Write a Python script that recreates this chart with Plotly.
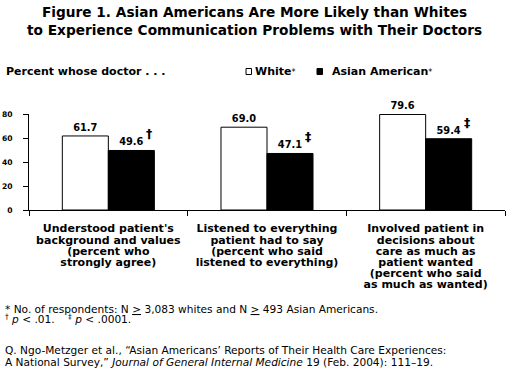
import plotly.graph_objects as go

# ---------------- data ----------------
cat_keys = ["background", "listened", "involved"]
cat_labels = [
    ["Understood patient's", "background and values", "(percent who", "strongly agree)"],
    ["Listened to everything", "patient had to say", "(percent who said", "listened to everything)"],
    ["Involved patient in", "decisions about", "care as much as", "patient wanted",
     "(percent who said", "as much as wanted)"],
]
white_values = [61.7, 69.0, 79.6]
asian_values = [49.6, 47.1, 59.4]
significance = ["†", "‡", "‡"]
y_ticks = [0, 20, 40, 60, 80]
series_names = ["White", "Asian American"]
title_lines = ["Figure 1. Asian Americans Are More Likely than Whites",
               "to Experience Communication Problems with Their Doctors"]

# ---------------- layout helpers ----------------
W, H = 508, 377
ML, MR, MT, MB = 29, 3, 114, 167
PW, PH = W - ML - MR, H - MT - MB


def px(x):
    return (x - ML) / PW


def py(y):
    return (H - MB - y) / PH


BOLD = "DejaVu Sans"
REG = "DejaVu Sans"


def spaced(lines, size):
    return "<br>".join(f"<span style='font-size:{size}px'>{l}</span>" for l in lines)


fig = go.Figure()
fig.add_bar(
    x=cat_keys, y=white_values, name=series_names[0],
    marker=dict(color="white", line=dict(color="black", width=1)),
    texttemplate="%{y:.1f}", textposition="outside", constraintext="none",
    textfont=dict(family=BOLD, size=9.8, color="black", weight="bold"),
    cliponaxis=False, showlegend=False,
)
fig.add_bar(
    x=cat_keys, y=asian_values, name=series_names[1],
    marker=dict(color="black", line=dict(color="black", width=1)),
    texttemplate="%{y:.1f}", textposition="outside", constraintext="none",
    textfont=dict(family=BOLD, size=9.8, color="black", weight="bold"),
    cliponaxis=False, showlegend=False,
)

annotations = []
for k, v, s in zip(cat_keys, asian_values, significance):
    annotations.append(dict(
        x=k, y=v, xref="x", yref="y", text=s, showarrow=False,
        xanchor="center", yanchor="bottom", xshift=41, yshift=7,
        font=dict(family=BOLD, size=12.5, color="black", weight="bold"),
    ))

# title
annotations.append(dict(
    x=px(254), y=py(2), xref="paper", yref="paper", xanchor="center", yanchor="top",
    text="<br>".join(title_lines), showarrow=False, align="center",
    font=dict(family=BOLD, size=13.7, color="black", weight="bold"),
))
# header label
annotations.append(dict(
    x=px(4), y=py(71.5), xref="paper", yref="paper", xanchor="left", yanchor="middle",
    text="Percent whose doctor . . .", showarrow=False,
    font=dict(family=BOLD, size=11, color="black", weight="bold"),
))
# legend texts
annotations.append(dict(
    x=px(252.5), y=py(71.5), xref="paper", yref="paper", xanchor="left", yanchor="middle",
    text=series_names[0] + "<span style='font-weight:normal;font-size:8px'>*</span>", showarrow=False,
    font=dict(family=BOLD, size=11, color="black", weight="bold"),
))
annotations.append(dict(
    x=px(329.5), y=py(71.5), xref="paper", yref="paper", xanchor="left", yanchor="middle",
    text=series_names[1] + "<span style='font-weight:normal;font-size:8px'>*</span>", showarrow=False,
    font=dict(family=BOLD, size=11, color="black", weight="bold"),
))

# footnotes
annotations.append(dict(
    x=px(3), y=py(301), xref="paper", yref="paper", xanchor="left", yanchor="top",
    text=("<span style='font-size:10.6px'>* No. of respondents: N <u>&gt;</u> 3,083 whites and N "
          "<u>&gt;</u> 493 Asian Americans.</span><br>"
          "<span style='font-size:10.6px'><sup>†</sup> <i>p</i> &lt; .01.&nbsp;&nbsp;&nbsp; "
          "<sup>‡</sup> <i>p</i> &lt; .0001.</span>"),
    showarrow=False, align="left",
    font=dict(family=REG, size=8, color="black"),
))
annotations.append(dict(
    x=px(3), y=py(342), xref="paper", yref="paper", xanchor="left", yanchor="top",
    text=("<span style='font-size:10.6px'>Q. Ngo-Metzger et al., “Asian Americans’ Reports of Their "
          "Health Care Experiences:</span><br>"
          "<span style='font-size:10.6px'>A National Survey,” <i>Journal of General Internal "
          "Medicine</i> 19 (Feb. 2004): 111–19.</span>"),
    showarrow=False, align="left",
    font=dict(family=REG, size=9.2, color="black"),
))

shapes = [
    dict(type="rect", xref="paper", yref="paper", x0=px(246), x1=px(251.5), y0=py(74.5), y1=py(68.5),
         fillcolor="white", line=dict(color="black", width=1)),
    dict(type="rect", xref="paper", yref="paper", x0=px(317), x1=px(322.5), y0=py(74.5), y1=py(68.5),
         fillcolor="black", line=dict(color="black", width=1)),
]

fig.update_layout(
    width=W, height=H,
    margin=dict(l=ML, r=MR, t=MT, b=MB, pad=0),
    paper_bgcolor="white", plot_bgcolor="white",
    barmode="group", bargap=0.42, bargroupgap=0,
    hovermode=False,
    xaxis=dict(
        type="category", tickvals=cat_keys,
        ticktext=[spaced(l, 11) for l in cat_labels],
        tickson="boundaries", ticks="outside", ticklen=5, tickcolor="black", tickwidth=1,
        showline=True, linecolor="black", linewidth=1, showgrid=False,
        tickfont=dict(family=BOLD, size=8.6, color="black", weight="bold"),
        ticklabelstandoff=11, tickangle=0,
    ),
    yaxis=dict(
        range=[0, 80], tickvals=y_ticks, ticks="outside", ticklen=5, tickcolor="black", tickwidth=1,
        showline=True, linecolor="black", linewidth=1, showgrid=False, zeroline=False,
        tickfont=dict(family=BOLD, size=7.6, color="black", weight="bold"),
        ticklabelstandoff=9,
    ),
    annotations=annotations,
    shapes=shapes,
)

fig.write_html(
    "out.html",
    config={"displayModeBar": False, "staticPlot": True},
    post_script="document.body.style.margin='0';document.body.style.overflow='hidden';",
)
